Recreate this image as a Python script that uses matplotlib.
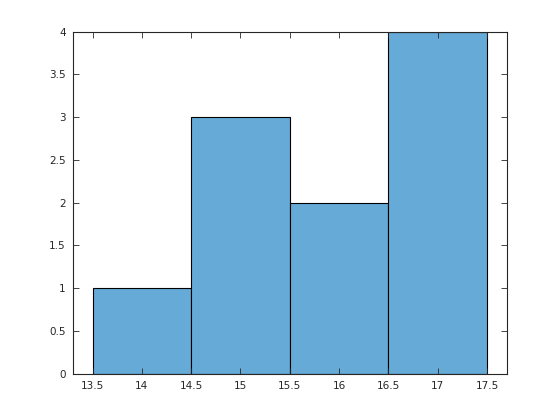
import matplotlib
matplotlib.use("Agg")
import matplotlib.pyplot as plt
import numpy as np

bin_edges = [13.5, 14.5, 15.5, 16.5, 17.5]
counts = [1, 3, 2, 4]
xticks = [13.5, 14, 14.5, 15, 15.5, 16, 16.5, 17, 17.5]
yticks = [0, 0.5, 1, 1.5, 2, 2.5, 3, 3.5, 4]

plt.rcParams['font.family'] = ['DejaVu Sans']
fig = plt.figure(figsize=(5.6, 4.2), dpi=100)
ax = fig.add_axes([0.13, 0.11, 0.775, 0.815])

edges = np.array(bin_edges)
ax.bar(edges[:-1], counts, width=np.diff(edges), align='edge',
       color='#66AAD7', edgecolor='black', linewidth=0.8)

ax.set_xlim(13.3, 17.7)
ax.set_ylim(0, 4)
ax.set_xticks(xticks)
ax.set_xticklabels([f"{t:g}" for t in xticks])
ax.set_yticks(yticks)
ax.set_yticklabels([f"{t:g}" for t in yticks])
ax.tick_params(direction='in', top=True, right=True, length=4, width=0.6,
               labelsize=7.5, colors='#262626', pad=5)
for s in ax.spines.values():
    s.set_color('#262626')
    s.set_linewidth(0.8)

fig.savefig('out.png', dpi=100)
